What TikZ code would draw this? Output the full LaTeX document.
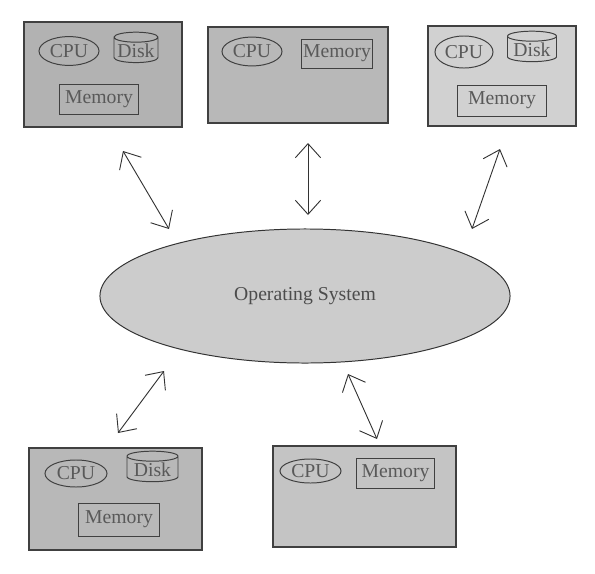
\documentclass[tikz,border=0pt]{standalone}
\usepackage{fontspec}
\setmainfont{Liberation Serif}
\usetikzlibrary{shapes.geometric, arrows.meta}

\begin{document}
\begin{tikzpicture}[
    x=0.025cm, y=-0.025cm,
    font=\fontsize{14}{16}\selectfont,
    machine/.style={draw=black!75, line width=0.9pt, inner sep=0pt},
    cpu/.style={draw=black!75, line width=0.7pt, ellipse, text=black!65, minimum width=1.5cm, minimum height=0.72cm, inner sep=0pt},
    disk/.style={draw=black!75, line width=0.7pt, cylinder, shape border rotate=90, aspect=0.25, text=black!65, minimum width=1.1cm, minimum height=0.62cm, inner sep=1pt},
    mem/.style={draw=black!75, line width=0.7pt, text=black!65, minimum width=1.95cm, minimum height=0.75cm, inner sep=0pt},
    os/.style={draw=black!80, line width=0.7pt, ellipse, fill=black!20, text=black!70, minimum width=10.25cm, minimum height=3.35cm},
    arrow/.style={{Straight Barb[length=10pt,width=18pt]}-{Straight Barb[length=10pt,width=18pt]}, line width=0.65pt, draw=black!80}
]
    \useasboundingbox (0,0) rectangle (595,574);

    % Top row
    \node[machine, fill=black!30, minimum width=3.95cm, minimum height=2.625cm] (m1) at (103,74.5) {};
    \node[cpu] (cpu1) at (69,51) {CPU};
    \node[disk] (disk1) at (136,51) {Disk};
    \node[mem] (mem1) at (99,99) {Memory};

    \node[machine, fill=black!28, minimum width=4.5cm, minimum height=2.4cm] (m2) at (298,75) {};
    \node[cpu] (cpu2) at (252,51.5) {CPU};
    \node[mem, minimum width=1.775cm, minimum height=0.725cm] (mem2) at (337,53.5) {Memory};

    \node[machine, fill=black!18, minimum width=3.7cm, minimum height=2.5cm] (m3) at (502,76) {};
    \node[cpu, minimum width=1.45cm, minimum height=0.8cm] (cpu3) at (464,52) {CPU};
    \node[disk, minimum width=1.225cm, minimum height=0.75cm] (disk3) at (532,50) {Disk};
    \node[mem, minimum width=2.225cm, minimum height=0.775cm] (mem3) at (502,100.5) {Memory};

    % Operating system
    \node[os] (os) at (305,296) {Operating System};

    % Bottom row
    \node[machine, fill=black!28, minimum width=4.325cm, minimum height=2.55cm] (m4) at (115.5,499) {};
    \node[cpu, minimum width=1.55cm, minimum height=0.675cm] (cpu4) at (76,473.5) {CPU};
    \node[disk, minimum width=1.275cm, minimum height=0.62cm] (disk4) at (152.5,470) {Disk};
    \node[mem, minimum width=2cm, minimum height=0.825cm] (mem4) at (119,519.5) {Memory};

    \node[machine, fill=black!23, minimum width=4.575cm, minimum height=2.525cm] (m5) at (364.5,496.5) {};
    \node[cpu, minimum width=1.525cm, minimum height=0.6cm] (cpu5) at (310.5,471) {CPU};
    \node[mem, minimum width=1.925cm, minimum height=0.75cm] (mem5) at (395.5,473) {Memory};

    % Arrow ends
    \coordinate (a1m) at (123,151);
    \coordinate (a1os) at (169,229);
    \coordinate (a2m) at (308,143);
    \coordinate (a2os) at (308,215);
    \coordinate (a3m) at (500,149);
    \coordinate (a3os) at (472,229);
    \coordinate (a4os) at (164,371);
    \coordinate (a4m) at (118,433);
    \coordinate (a5os) at (348,374);
    \coordinate (a5m) at (377,439);

    \draw[arrow] (a1m) -- (a1os);
    \draw[arrow] (a2m) -- (a2os);
    \draw[arrow] (a3m) -- (a3os);
    \draw[arrow] (a4os) -- (a4m);
    \draw[arrow] (a5os) -- (a5m);
\end{tikzpicture}
\end{document}
